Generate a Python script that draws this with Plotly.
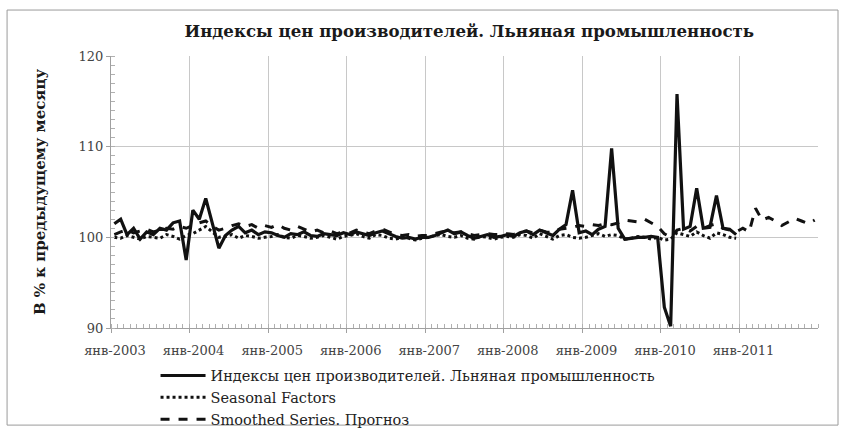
import plotly.graph_objects as go

# ---- data ----
months_main = [f"{y}-{m:02d}" for y in range(2003, 2011) for m in range(1, 13)]
months_fc = [f"{y}-{m:02d}" for y in range(2003, 2012) for m in range(1, 13)]

price_index = [
    # 2003
    101.5, 102.0, 100.3, 101.0, 99.8, 100.6, 100.3, 101.0, 100.8, 101.6, 101.8, 97.5,
    # 2004
    103.0, 102.0, 104.3, 101.5, 98.8, 100.2, 100.8, 101.2, 100.5, 100.8, 100.3, 100.6,
    # 2005
    100.5, 100.2, 100.0, 100.4, 100.3, 100.6, 100.2, 100.1, 100.4, 100.3, 100.2, 100.5,
    # 2006
    100.3, 100.6, 100.4, 100.2, 100.5, 100.7, 100.4, 100.1, 99.9, 100.0, 99.8, 100.0,
    # 2007
    100.0, 100.2, 100.5, 100.8, 100.4, 100.6, 100.2, 99.9, 100.1, 100.3, 100.0, 100.1,
    # 2008
    100.3, 100.1, 100.5, 100.7, 100.3, 100.8, 100.5, 100.2, 100.9, 101.4, 105.2, 100.5,
    # 2009
    100.7, 100.3, 100.9, 101.2, 109.8, 101.0, 99.8, 99.9, 100.0, 100.0, 100.1, 100.0,
    # 2010
    92.3, 90.2, 115.8, 100.9, 101.2, 105.4, 101.0, 101.1, 104.6, 101.0, 100.9, 100.3,
]

seasonal = [
    100.0, 99.9, 100.2, 100.0, 99.8, 100.1, 100.0, 99.9, 100.3, 100.1, 99.8, 100.2,
    100.4, 100.8, 101.2, 100.6, 100.0, 100.1, 100.3, 99.9, 100.2, 100.1, 99.9, 100.0,
    100.1, 100.3, 100.0, 99.9, 100.2, 100.1, 99.9, 100.0, 100.2, 100.0, 99.8, 100.1,
    100.2, 100.4, 100.1, 99.9, 100.3, 100.2, 99.9, 99.8, 100.0, 99.9, 99.7, 99.9,
    100.0, 100.2, 100.3, 100.1, 100.0, 100.2, 99.9, 99.8, 100.1, 100.0, 99.8, 100.0,
    100.1, 100.0, 100.3, 100.2, 99.9, 100.4, 100.1, 99.8, 100.2, 100.3, 100.0, 99.9,
    100.0, 100.2, 100.4, 100.1, 100.3, 100.2, 99.8, 99.9, 100.1, 100.0, 99.8, 100.0,
    99.7, 99.8, 100.5, 100.3, 100.1, 100.6, 100.2, 99.9, 100.5, 100.3, 100.0, 99.9,
]

smoothed = [
    100.3, 100.6, 100.8, 100.5, 100.7, 100.9, 100.6, 100.8, 101.0, 100.9, 101.2, 101.0,
    101.3, 101.6, 101.8, 101.2, 100.8, 101.0, 101.3, 101.5, 101.2, 101.4, 101.0, 101.3,
    101.1, 101.4, 101.0, 100.8, 101.2, 100.9, 100.6, 100.8, 100.5, 100.7, 100.4, 100.6,
    100.5, 100.8, 100.6, 100.4, 100.7, 100.9, 100.6, 100.3, 100.2, 100.3, 100.1, 100.2,
    100.2, 100.4, 100.6, 100.7, 100.5, 100.6, 100.4, 100.2, 100.3, 100.4, 100.3, 100.3,
    100.4, 100.3, 100.6, 100.7, 100.5, 100.8, 100.6, 100.5, 100.9, 101.0, 101.1, 101.3,
    101.2, 101.4, 101.3, 101.5, 101.4, 101.6, 101.9, 101.8, 101.7, 102.0, 101.6, 101.2,
    100.4, 100.0, 100.8, 101.0, 100.7, 101.2, 101.0, 101.3, 101.5, 101.0, 100.8, 100.6,
    101.0, 100.6, 103.2, 101.9, 102.2, 101.8, 101.3, 101.7, 102.1, 101.8, 101.5, 101.9,
]

tick_years = list(range(2003, 2012))
tick_vals = [f"{y}-01-01" for y in tick_years]
tick_text = [f"янв-{y}" for y in tick_years]

names = [
    "Индексы цен производителей. Льняная промышленность",
    "Seasonal Factors",
    "Smoothed Series. Прогноз",
]

FONT = "DejaVu Serif, serif"

fig = go.Figure()
fig.add_trace(go.Scatter(
    x=months_main, y=price_index, name=names[0], mode="lines",
    line=dict(color="#111111", width=3.2),
    xperiod="M1", xperiodalignment="middle",
))
fig.add_trace(go.Scatter(
    x=months_main, y=seasonal, name=names[1], mode="lines",
    line=dict(color="#111111", width=3, dash="dot"),
    xperiod="M1", xperiodalignment="middle",
))
fig.add_trace(go.Scatter(
    x=months_fc, y=smoothed, name=names[2], mode="lines",
    line=dict(color="#111111", width=3, dash="dash"),
    xperiod="M1", xperiodalignment="middle",
))

fig.update_layout(
    width=841, height=432,
    margin=dict(l=111, r=23, t=56, b=104, autoexpand=False),
    paper_bgcolor="white", plot_bgcolor="white",
    font=dict(family=FONT, color="#333333"),
    title=dict(
        text="<b>Индексы цен производителей. Льняная промышленность</b>",
        x=0.558, xanchor="center", y=0.928, yanchor="middle",
        font=dict(family=FONT, size=16.6, color="#1a1a1a"),
    ),
    showlegend=True,
    legend=dict(
        x=0.063, y=-0.116, xanchor="left", yanchor="top",
        font=dict(family=FONT, size=14.5, color="#222222"),
        itemwidth=45, tracegroupgap=0,
        bgcolor="rgba(0,0,0,0)",
    ),
    shapes=[dict(
        type="rect", xref="paper", yref="paper",
        x0=-0.147, x1=1.0283, y0=-0.357, y1=1.169,
        line=dict(color="#9a9a9a", width=1),
    )],
)

fig.update_xaxes(
    type="date", range=["2003-01-01", "2012-01-01"],
    tickvals=tick_vals, ticktext=tick_text,
    tickfont=dict(family=FONT, size=13, color="#444444"),
    ticklabelstandoff=6, ticklabelshift=4,
    showgrid=True, gridcolor="#c8c8c8", gridwidth=1,
    showline=True, linecolor="#a0a0a0", linewidth=1,
    ticks="outside", ticklen=4, tickcolor="#a0a0a0",
    minor=dict(dtick="M1", ticks="inside", ticklen=4, tickcolor="#b0b0b0", showgrid=False),
    mirror=False, zeroline=False, automargin=False,
)
fig.update_yaxes(
    range=[90, 120], dtick=10,
    tickfont=dict(family=FONT, size=13, color="#444444"),
    title=dict(text="<b>В % к предыдущему месяцу</b>",
               font=dict(family=FONT, size=15, color="#1a1a1a"), standoff=29),
    showgrid=True, gridcolor="#c8c8c8", gridwidth=1,
    showline=True, linecolor="#a0a0a0", linewidth=1,
    ticks="outside", ticklen=4, tickcolor="#a0a0a0",
    minor=dict(dtick=1, ticks="inside", ticklen=4, tickcolor="#b0b0b0", showgrid=False),
    zeroline=False, automargin=True,
)

fig.write_html(
    "out.html",
    config={"displayModeBar": False},
    post_script="document.body.style.margin='0';document.body.style.overflow='hidden';",
)
